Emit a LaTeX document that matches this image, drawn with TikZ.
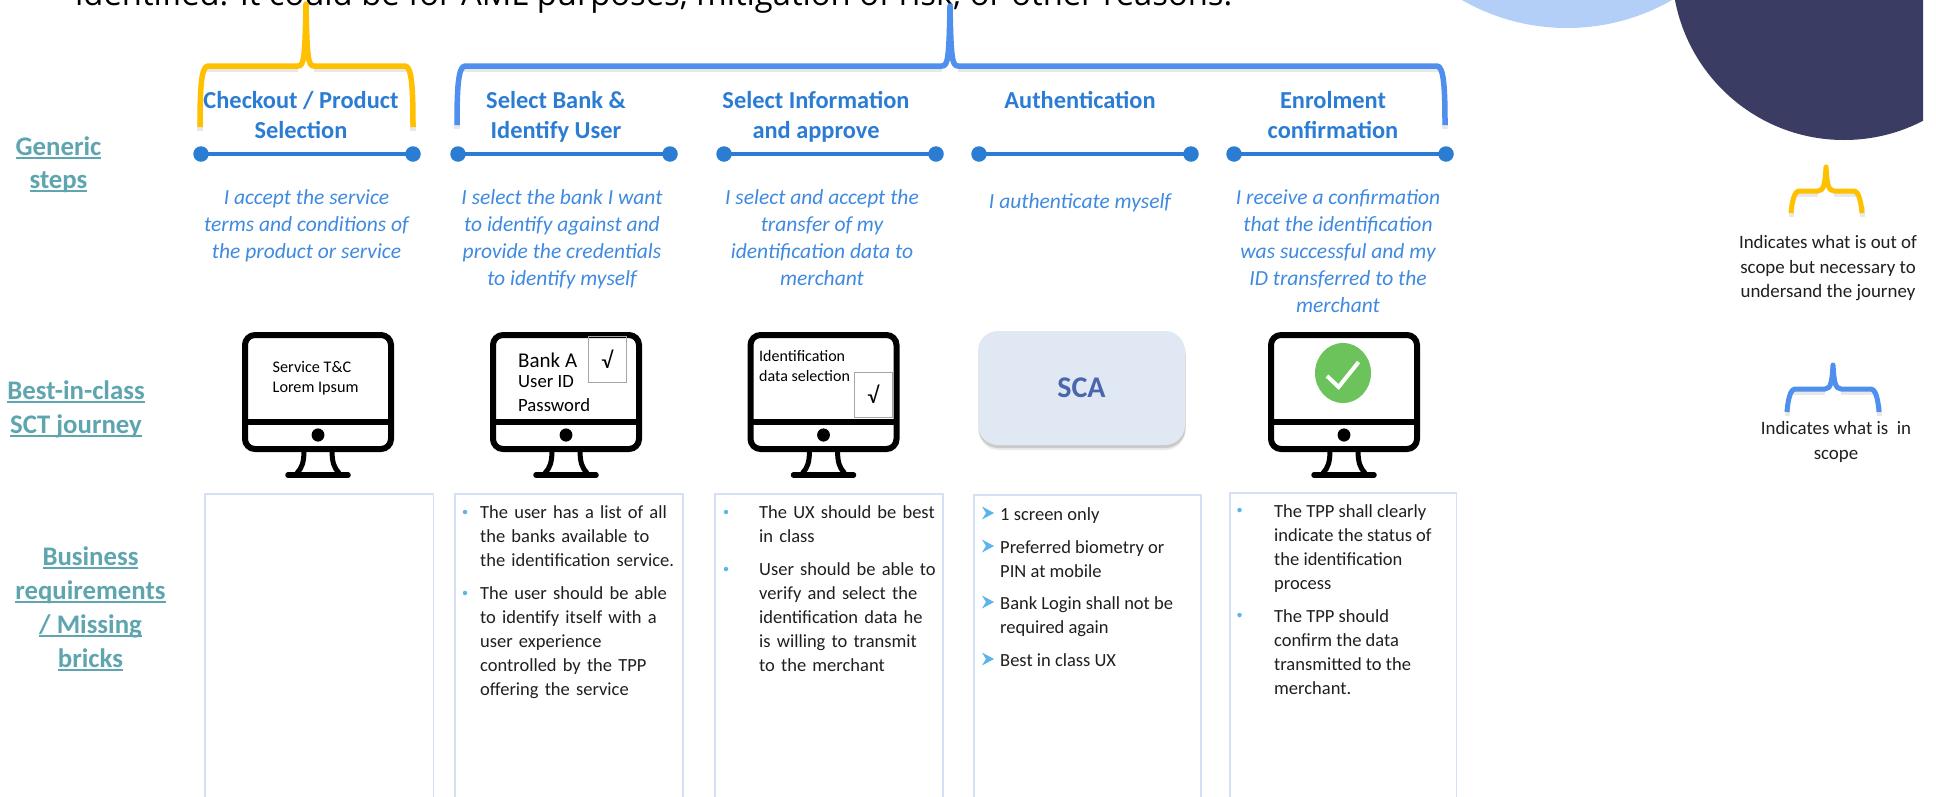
\documentclass[tikz,border=0pt]{standalone}
\usepackage{fontspec}
\setmainfont{Carlito}
\newfontfamily\topfont{Open Sans}
\definecolor{cyellow}{HTML}{FFC000}
\definecolor{cblue}{HTML}{4F8FEE}
\definecolor{cline}{HTML}{2B7CD3}
\definecolor{cdesc}{HTML}{3F8AE0}
\definecolor{cteal}{HTML}{5FA5B0}
\definecolor{cdark}{HTML}{3B3C63}
\definecolor{clight}{HTML}{B4CFF7}
\definecolor{cbox}{HTML}{D6E0F5}
\definecolor{cbullet}{HTML}{5BB4EA}
\definecolor{ctext}{HTML}{1F1F1F}
\definecolor{cscafill}{HTML}{DFE8F3}
\definecolor{cscatext}{HTML}{4A66AC}
\definecolor{cgreen}{HTML}{6CC35C}
\tikzset{
  stepline/.style={draw=cline,line width=4.4pt},
  stepdot/.style={circle,fill=cline,inner sep=0pt,minimum size=15.5pt},
  steptitle/.style={anchor=north,inner sep=0pt,align=center,text=cline,font=\fontsize{24.4}{30}\selectfont\bfseries},
  stepdesc/.style={anchor=north,inner sep=0pt,align=center,text=cdesc,font=\fontsize{21.5}{27}\selectfont\itshape},
  rowlabel/.style={anchor=north,inner sep=0pt,align=center,text=cteal,font=\fontsize{26.8}{34}\selectfont\bfseries},
  boxframe/.style={draw=cbox,line width=1.2pt},
  para/.style={anchor=north west,inner sep=0pt,align=left,text=ctext,font=\fontsize{18.5}{24}\selectfont},
  legendtxt/.style={anchor=north,inner sep=0pt,align=center,text=ctext,font=\fontsize{18.9}{24.5}\selectfont},
  screentxt/.style={anchor=north west,inner sep=0pt,align=left,text=black},
  tickbox/.style={draw=black!35,line width=.8pt,fill=none},
  monframe/.style={draw=black,line width=6pt,rounded corners=10pt},
  bulletdot/.style={circle,fill=cbullet,inner sep=0pt,minimum size=4.5pt},
  scabody/.style={rounded corners=20pt,minimum width=207pt,minimum height=114pt,inner sep=0pt},
}
\newcommand{\ul}[1]{\leavevmode\setbox0=\hbox{#1}\rlap{\rule[-3.5pt]{\wd0}{1.4pt}}\box0 }
% brace: colour, left x, right x, centre x, apex y, top y, bottom y, width
\newcommand{\bracedraw}[8]{%
  \draw[black!35,opacity=.25,line width=#8,line cap=butt] (#2,#7+4) -- (#2,#7-6)
     (#2+6,#6+3.5) -- (#4-8,#6+3.5) (#4+8,#6+3.5) -- (#3-6,#6+3.5) (#3,#7+4) -- (#3,#7-6);
  \draw[#1,line width=#8,line join=round,line cap=butt]
    (#2,#7) .. controls (#2,#6+24) and (#2+1,#6) .. (#2+8,#6)
    -- (#4-8,#6) .. controls (#4-2,#6) and (#4-1,#6-8) .. (#4,#5)
    .. controls (#4+1,#6-8) and (#4+2,#6) .. (#4+8,#6)
    -- (#3-8,#6) .. controls (#3-1,#6) and (#3,#6+24) .. (#3,#7);}
\newcommand{\monitor}[1]{%
  \begin{scope}[shift={(#1,0)}]
    \draw[monframe] (-73,335) rectangle (73,449);
    \draw[black,line width=6pt] (-73,421.5) -- (73,421.5);
    \fill[black] (0,435) ellipse (6.4 and 6.6);
    \draw[black,line width=5pt] (-14,450) .. controls (-14,462) and (-16,468) .. (-21,473);
    \draw[black,line width=5pt] (14,450) .. controls (14,462) and (16,468) .. (21,473);
    \draw[black,line width=5.5pt,line cap=round] (-30,475) -- (30,475);
  \end{scope}}
\newcommand{\chevbullet}[2]{\fill[cbullet] (#1,#2-6.5) -- (#1+12,#2) -- (#1,#2+6.5) -- (#1+4,#2) -- cycle;}
\begin{document}
\begin{tikzpicture}[x=1pt,y=-1pt]
\useasboundingbox (0,0) rectangle (1936,796);
\fill[white] (0,0) rectangle (1936,796);
\begin{scope}
  \clip (0,0) rectangle (1923,796);
  \fill[clight] (1567,-183) circle (211);
  \fill[cdark] (1844,-32) circle (172);
\end{scope}
\begin{scope}
  \clip (0,0) rectangle (1936,796);
  \node[anchor=base west,inner sep=0pt,text=black,font=\fontsize{32.75}{40}\selectfont\topfont] (intro) at (75,5)
    {identified. It could be for AML purposes, mitigation of risk, or other reasons.};
\end{scope}
% braces
\bracedraw{cyellow}{200}{413}{306}{4}{66}{127}{5.5pt}
\bracedraw{cblue}{457}{1445}{950}{6}{66}{125}{5.5pt}
\bracedraw{cyellow}{1791}{1862}{1826}{167}{191}{213}{5pt}
\bracedraw{cblue}{1787}{1879}{1833}{365}{389}{412}{5pt}
% step lines
\foreach \n/\a/\b in {one/201/413,two/458/670,three/724/936,four/979/1191,five/1234/1446}{
  \node[stepdot] (\n L) at (\a,154) {};
  \node[stepdot] (\n R) at (\b,154) {};
  \draw[stepline] (\n L.center) -- (\n R.center);
}
% titles
\node[steptitle] (t1) at (301,87) {\strut Checkout / Product\\Selection};
\node[steptitle] (t2) at (556,87) {\strut Select Bank \&\\Identify User};
\node[steptitle] (t3) at (816,87) {\strut Select Information\\and approve};
\node[steptitle] (t4) at (1080,87) {\strut Authentication};
\node[steptitle] (t5) at (1333,87) {\strut Enrolment\\confirmation};
% descriptions
\node[stepdesc] (d1) at (306.5,185.5) {\strut I accept the service\\terms and conditions of\\the product or service};
\node[stepdesc] (d2) at (562,185.5) {\strut I select the bank I want\\to identify against and\\provide the credentials\\to identify myself};
\node[stepdesc] (d3) at (822,185.5) {\strut I select and accept the\\transfer of my\\identification data to\\merchant};
\node[stepdesc] (d4) at (1080,189.5) {\strut I authenticate myself};
\node[stepdesc] (d5) at (1338,185.5) {\strut I receive a confirmation\\that the identification\\was successful and my\\ID transferred to the\\merchant};
% row labels
\node[rowlabel,font=\fontsize{26.8}{33}\selectfont\bfseries] (r1) at (58.5,132) {\strut\ul{Generic}\\\ul{steps}};
\node[rowlabel] (r2) at (76,375) {\strut\ul{Best-in-class}\\\ul{SCT journey}};
\node[rowlabel] (r3) at (90.5,541) {\strut\ul{Business}\\\ul{requirements}\\\ul{/ Missing}\\\ul{bricks}};
% monitors
\monitor{318}
\monitor{566}
\monitor{823.5}
\monitor{1344}
\node[screentxt,font=\fontsize{16.2}{20}\selectfont] (m1) at (272.5,361.5) {Service T\&C\\Lorem Ipsum};
\node[screentxt,font=\fontsize{21}{20}\selectfont] (m2a) at (518,352.5) {Bank A};
\node[screentxt,font=\fontsize{18.7}{24}\selectfont] (m2b) at (518,375.5) {User ID\\Password};
\node[tickbox,minimum width=38pt,minimum height=46pt,inner sep=0pt,font=\fontsize{23}{23}\selectfont] (c2) at (607,359) {√};
\node[screentxt,font=\fontsize{16}{20}\selectfont] (m3) at (759,350.5) {Identification\\data selection};
\node[tickbox,minimum width=38pt,minimum height=45pt,inner sep=0pt,font=\fontsize{23}{23}\selectfont] (c3) at (873,394.5) {√};
% SCA
\node[scabody,fill=black!30,opacity=.25] (scashadowb) at (1082,393) {};
\node[scabody,fill=black!40,opacity=.4] (scashadow) at (1082,391) {};
\node[scabody,fill=cscafill,text=cscatext,font=\fontsize{30}{30}\selectfont\bfseries] (sca) at (1081.5,388) {\raisebox{-1pt}{SCA}};
% tick circle
\fill[cgreen] (1343,373) ellipse (28 and 30);
\draw[white,line width=4pt] (1327,376) -- (1338.6,387) -- (1358.6,362);
% requirement boxes
\foreach \l/\r/\t in {205/433.5/494,455/683/494,715/943/494,974/1201/495,1230/1456.5/493}{
  \draw[boxframe] (\l,797) -- (\l,\t) -- (\r,\t) -- (\r,797);
}
% box 2
\node[bulletdot] (b2a) at (465,512) {};
\node[para,text width=198pt] (p2a) at (480,501.5) {\strut The user has a list of all\\the banks available to\\the identification service.};
\node[bulletdot] (b2b) at (465,593) {};
\node[para,text width=198pt] (p2b) at (480,582.5) {\strut The user should be able\\to identify itself with a\\user experience\\controlled by the TPP\\offering the service};
% box 3
\node[bulletdot] (b3a) at (726,512) {};
\node[para,text width=180pt] (p3a) at (759,501.5) {\strut The UX should be best\\in class};
\node[bulletdot] (b3b) at (726,569) {};
\node[para,text width=180pt] (p3b) at (759,558.5) {\strut User should be able to\\verify and select the\\identification data he\\is willing to transmit\\to the merchant};
% box 4
\chevbullet{982}{513}
\node[para] (p4a) at (1000,503) {\strut 1 screen only};
\chevbullet{982}{546}
\node[para] (p4b) at (1000,536) {\strut Preferred biometry or\\PIN at mobile};
\chevbullet{982}{602}
\node[para] (p4c) at (1000,592) {\strut Bank Login shall not be\\required again};
\chevbullet{982}{659}
\node[para] (p4d) at (1000,649) {\strut Best in class UX};
% box 5
\node[bulletdot] (b5a) at (1239.5,510) {};
\node[para] (p5a) at (1274,500) {\strut The TPP shall clearly\\indicate the status of\\the identification\\process};
\node[bulletdot] (b5b) at (1239.5,615) {};
\node[para] (p5b) at (1274,605) {\strut The TPP should\\confirm the data\\transmitted to the\\merchant.};
% legend
\node[legendtxt] (l1) at (1828,231.5) {\strut Indicates what is out of\\scope but necessary to\\undersand the journey};
\node[legendtxt] (l2) at (1836,417.5) {\strut Indicates what is\ \ in\\scope};
\end{tikzpicture}
\end{document}
